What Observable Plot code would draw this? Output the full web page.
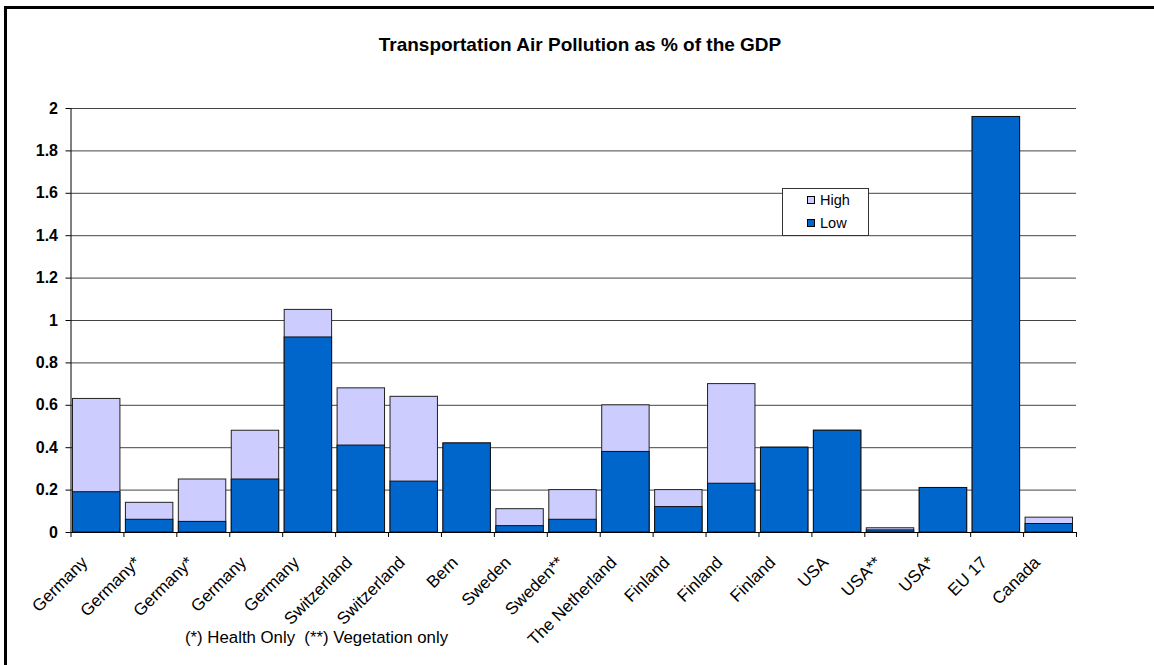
<!DOCTYPE html>
<html>
<head>
<meta charset="utf-8">
<script src="https://cdn.jsdelivr.net/npm/d3@7"></script>
<script src="https://cdn.jsdelivr.net/npm/@observablehq/plot@0.6"></script>
<style>
  html, body { margin: 0; padding: 0; background: #fff; }
  #chart { position: relative; width: 1154px; height: 665px; overflow: hidden;
           font-family: "Liberation Sans", Arial, sans-serif; color: #000; }
  #frame { position: absolute; left: 4px; top: 6px; right: -10px; bottom: -10px;
           border-top: 3px solid #000; border-left: 3px solid #000; }
  #title { position: absolute; top: 34px; left: 0; width: 1160px; text-align: center;
           font-size: 19px; font-weight: bold; }
  #plot { position: absolute; left: 0; top: 0; }
  #legend { position: absolute; left: 782px; top: 188px; width: 87px; height: 48px;
            background: #fff; border: 1px solid #333; box-sizing: border-box; font-size: 14.5px; }
  #legend .item { position: absolute; left: 24px; display: flex; align-items: center; }
  #legend .sw { width: 6px; height: 6px; border: 1px solid #000; margin-right: 5px; }
  #note { position: absolute; left: 185px; top: 628px; font-size: 16.8px; white-space: pre; }
</style>
</head>
<body>
<div id="chart">
  <div id="frame"></div>
  <div id="plot"></div>
  <div id="title">Transportation Air Pollution as % of the GDP</div>
  <div id="legend"></div>
  <div id="note"></div>
</div>
<script>
// Study locations (x categories), left to right
const categories = [
  "Germany", "Germany*", "Germany*", "Germany", "Germany",
  "Switzerland", "Switzerland", "Bern", "Sweden", "Sweden**",
  "The Netherland", "Finland", "Finland", "Finland", "USA",
  "USA**", "USA*", "EU 17", "Canada"
];
// Low estimate, % of GDP
const lowValues = [
  0.19, 0.06, 0.05, 0.25, 0.92,
  0.41, 0.24, 0.42, 0.03, 0.06,
  0.38, 0.12, 0.23, 0.40, 0.48,
  0.01, 0.21, 1.96, 0.04
];
// High estimate, % of GDP (equal to low where only one figure exists)
const highValues = [
  0.63, 0.14, 0.25, 0.48, 1.05,
  0.68, 0.64, 0.42, 0.11, 0.20,
  0.60, 0.20, 0.70, 0.40, 0.48,
  0.02, 0.21, 1.96, 0.07
];
const yTicks = [0, 0.2, 0.4, 0.6, 0.8, 1, 1.2, 1.4, 1.6, 1.8, 2];
const seriesNames = ["High", "Low"];
const seriesColors = ["#CCCCFF", "#0066CC"];
const footnote = "(*) Health Only  (**) Vegetation only";

const rows = categories.map((name, i) => ({i, name, low: lowValues[i], high: highValues[i]}));
const boundaries = d3.range(categories.length + 1);

const chart = Plot.plot({
  width: 1154,
  height: 665,
  marginLeft: 70.5,
  marginRight: 78,
  marginTop: 108,
  marginBottom: 133,
  style: {fontFamily: "'Liberation Sans', Arial, sans-serif", fontSize: "16px", overflow: "visible", background: "transparent"},
  x: {domain: [0, categories.length], axis: null},
  y: {domain: [0, 2], axis: null},
  marks: [
    Plot.ruleY(yTicks.filter(t => t > 0), {stroke: "#444", strokeWidth: 1}),
    Plot.rectY(rows, {x1: "i", x2: d => d.i + 1, y1: 0, y2: "high", fill: seriesColors[0],
      stroke: "#222", strokeWidth: 1, insetLeft: 2, insetRight: 3.5}),
    Plot.rectY(rows, {x1: "i", x2: d => d.i + 1, y1: 0, y2: "low", fill: seriesColors[1],
      stroke: "#111", strokeWidth: 1, insetLeft: 2, insetRight: 3.5}),
    Plot.axisY({ticks: yTicks, tickSize: 5, tickPadding: 8, tickFormat: d => String(d),
      fontWeight: "bold", fontSize: 16, label: null}),
    Plot.axisX({ticks: boundaries, tickSize: 5, tickFormat: () => "", label: null}),
    Plot.ruleX([0], {stroke: "#000"}),
    Plot.ruleY([0], {stroke: "#000"}),
    Plot.text(rows, {x: d => d.i + 0.5, y: 0, text: "name", rotate: -45, textAnchor: "end",
      lineAnchor: "bottom", dx: -9, dy: 31, fontSize: 17, fill: "#000"})
  ]
});
document.getElementById("plot").appendChild(chart);

// Legend box
const legend = document.getElementById("legend");
seriesNames.forEach((name, k) => {
  const item = document.createElement("div");
  item.className = "item";
  item.style.top = (k === 0 ? 3 : 26) + "px";
  const sw = document.createElement("span");
  sw.className = "sw";
  sw.style.background = seriesColors[k];
  item.appendChild(sw);
  item.appendChild(document.createTextNode(name));
  legend.appendChild(item);
});
document.getElementById("note").textContent = footnote;
</script>
</body>
</html>
